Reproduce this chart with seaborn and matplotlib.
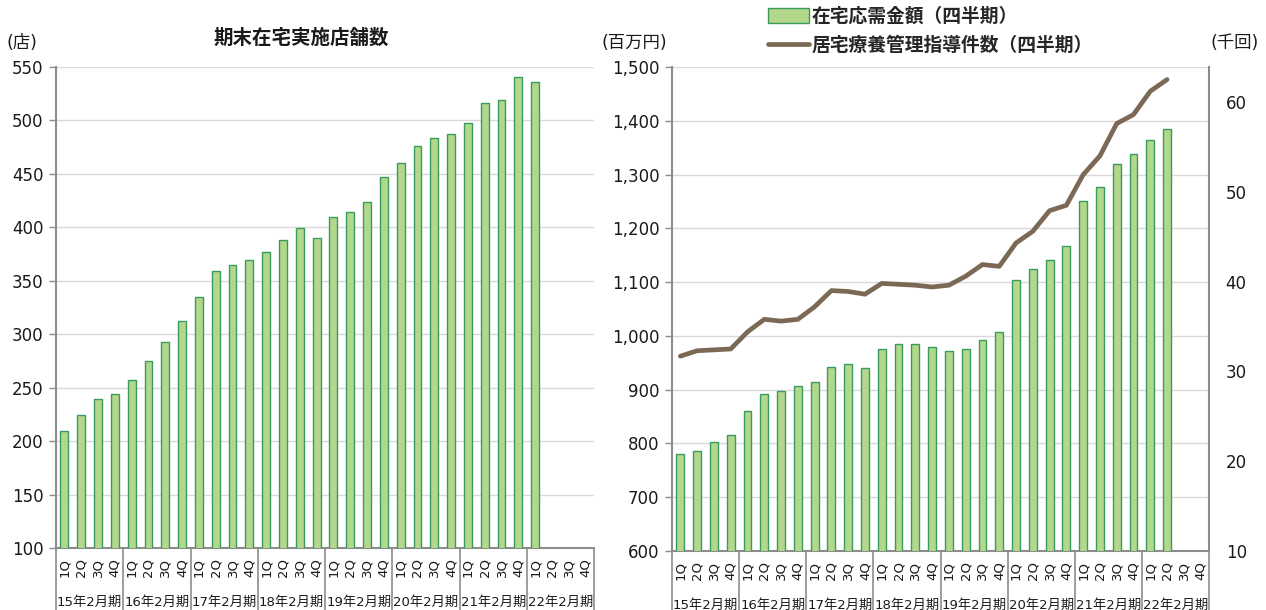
import numpy as np
import pandas as pd
import matplotlib
matplotlib.use("Agg")
import matplotlib.pyplot as plt
import matplotlib.transforms as mtransforms
from matplotlib.lines import Line2D
from matplotlib.patches import Patch
from matplotlib.ticker import FuncFormatter
import seaborn as sns

# ---------------- data ----------------
periods = ["15年2月期", "16年2月期", "17年2月期", "18年2月期",
           "19年2月期", "20年2月期", "21年2月期", "22年2月期"]
quarters = ["1Q", "2Q", "3Q", "4Q"]

# 期末在宅実施店舗数 (店)
stores = [209, 224, 239, 244, 257, 275, 293, 312, 335, 359, 365, 369, 377, 388,
          399, 390, 410, 414, 424, 447, 460, 476, 484, 487, 498, 516, 519, 541, 536]

# 在宅応需金額（四半期）(百万円)
sales = [781, 786, 802, 816, 860, 892, 897, 907, 915, 942, 947, 940, 976, 985,
         984, 979, 972, 976, 993, 1007, 1103, 1124, 1142, 1168, 1251, 1276,
         1320, 1338, 1365, 1384]

# 居宅療養管理指導件数（四半期）(千回)
guidance = [31.7, 32.3, 32.4, 32.5, 34.4, 35.8, 35.6, 35.8, 37.2, 39.0, 38.9,
            38.6, 39.8, 39.7, 39.6, 39.4, 39.6, 40.6, 41.9, 41.7, 44.3, 45.6,
            47.9, 48.5, 51.9, 54.0, 57.6, 58.6, 61.2, 62.5]

title_left = "期末在宅実施店舗数"
legend_labels = ["在宅応需金額（四半期）", "居宅療養管理指導件数（四半期）"]

# ---------------- style ----------------
sns.set_theme(style="white")
plt.rcParams['font.family'] = ['DejaVu Sans', 'Noto Sans CJK JP']

BAR_FILL = "#B3D78B"
BAR_EDGE = "#3A9B5F"
LINE_C = "#7B6956"
GRID_C = "#D9D9D9"
SPINE_C = "#8C8C8C"
TEXT_C = "#1A1A1A"

cats = [f"{p} {q}" for p in periods for q in quarters]
df_left = pd.DataFrame({"cat": cats[:len(stores)], "value": stores})
df_right = pd.DataFrame({"cat": cats[:len(sales)], "value": sales})

W, H = 1266, 610
fig = plt.figure(figsize=(W / 100, H / 100), dpi=100)
axL = fig.add_axes([56 / W, 1 - 548 / H, (594 - 56) / W, (548 - 67) / H])
axR = fig.add_axes([672 / W, 1 - 551 / H, (1209 - 672) / W, (551 - 67) / H])

for ax, df in ((axL, df_left), (axR, df_right)):
    sns.barplot(data=df, x="cat", y="value", order=cats, color=BAR_FILL,
                saturation=1, edgecolor=BAR_EDGE, linewidth=1.0, width=0.47,
                ax=ax, zorder=3)
    ax.set_axisbelow(True)
    ax.set_xlabel("")
    ax.set_ylabel("")
    ax.set_xlim(-0.5, len(cats) - 0.5)
    ax.set_xticks(range(len(cats)))
    ax.set_xticklabels(quarters * len(periods), rotation=90, fontsize=9.5,
                       color=TEXT_C)
    ax.tick_params(axis="x", length=0, pad=7)
    ax.tick_params(axis="y", length=5, width=1, color=SPINE_C, direction="out",
                   labelsize=12, labelcolor=TEXT_C, pad=4, left=True)
    ax.yaxis.grid(True, color=GRID_C, lw=1)
    ax.xaxis.grid(False)
    for s in ("left", "bottom"):
        ax.spines[s].set_visible(True)
        ax.spines[s].set_color(SPINE_C)
        ax.spines[s].set_linewidth(1.5)
    ax.spines["top"].set_visible(False)
    ax.spines["right"].set_visible(False)

    # group labels and separators under the axis
    trans = mtransforms.blended_transform_factory(ax.transData, ax.transAxes)
    ax_h = ax.get_position().height * H
    lab_y = -(54 / ax_h)
    sep_y = -(62 / ax_h)
    for g, p in enumerate(periods):
        ax.text(g * 4 + 1.5, lab_y, p, transform=trans, ha="center",
                va="center", fontsize=9.5, color=TEXT_C)
    for b in range(0, len(cats) + 1, 4):
        ax.plot([b - 0.5, b - 0.5], [0, sep_y], transform=trans,
                color=SPINE_C, lw=1.2, clip_on=False)

axL.set_ylim(100, 550)
axL.set_yticks(range(100, 551, 50))

axR.set_ylim(600, 1500)
axR.set_yticks(range(600, 1501, 100))
axR.yaxis.set_major_formatter(FuncFormatter(lambda v, _: f"{int(v):,}"))

ax2 = axR.twinx()
sns.lineplot(x=np.arange(len(guidance)), y=guidance, ax=ax2, color=LINE_C,
             lw=3.4, solid_capstyle="round", solid_joinstyle="round", zorder=4)
ax2.set_ylim(10, 63.9)
ax2.set_yticks(range(10, 61, 10))
ax2.set_ylabel("")
ax2.tick_params(axis="y", length=0, labelsize=12, labelcolor=TEXT_C, pad=12)
for s in ("left", "top", "bottom"):
    ax2.spines[s].set_visible(False)
ax2.spines["right"].set_visible(True)
ax2.spines["right"].set_color(SPINE_C)
ax2.spines["right"].set_linewidth(1.5)
axR.set_xlim(-0.5, len(cats) - 0.5)

# texts
fig.text(301 / W, 1 - 38 / H, title_left, ha="center", va="center",
         fontsize=14, fontweight="bold", color=TEXT_C)
fig.text(22 / W, 1 - 43 / H, "(店)", ha="center", va="center", fontsize=12.5,
         color=TEXT_C)
fig.text(634 / W, 1 - 43 / H, "(百万円)", ha="center", va="center",
         fontsize=12.5, color=TEXT_C)
fig.text(1235 / W, 1 - 43 / H, "(千回)", ha="center", va="center",
         fontsize=12.5, color=TEXT_C)

handles = [Patch(facecolor=BAR_FILL, edgecolor=BAR_EDGE, lw=1),
           Line2D([], [], color=LINE_C, lw=3.4, solid_capstyle="round")]
fig.legend(handles, legend_labels, loc="upper left",
           bbox_to_anchor=(768 / W, 1 - 7 / H), frameon=False,
           prop={"weight": "bold", "size": 13.5}, handlelength=2.2,
           handleheight=0.85, handletextpad=0.15, labelspacing=0.55,
           borderaxespad=0, borderpad=0)

fig.savefig("out.png", dpi=100)
